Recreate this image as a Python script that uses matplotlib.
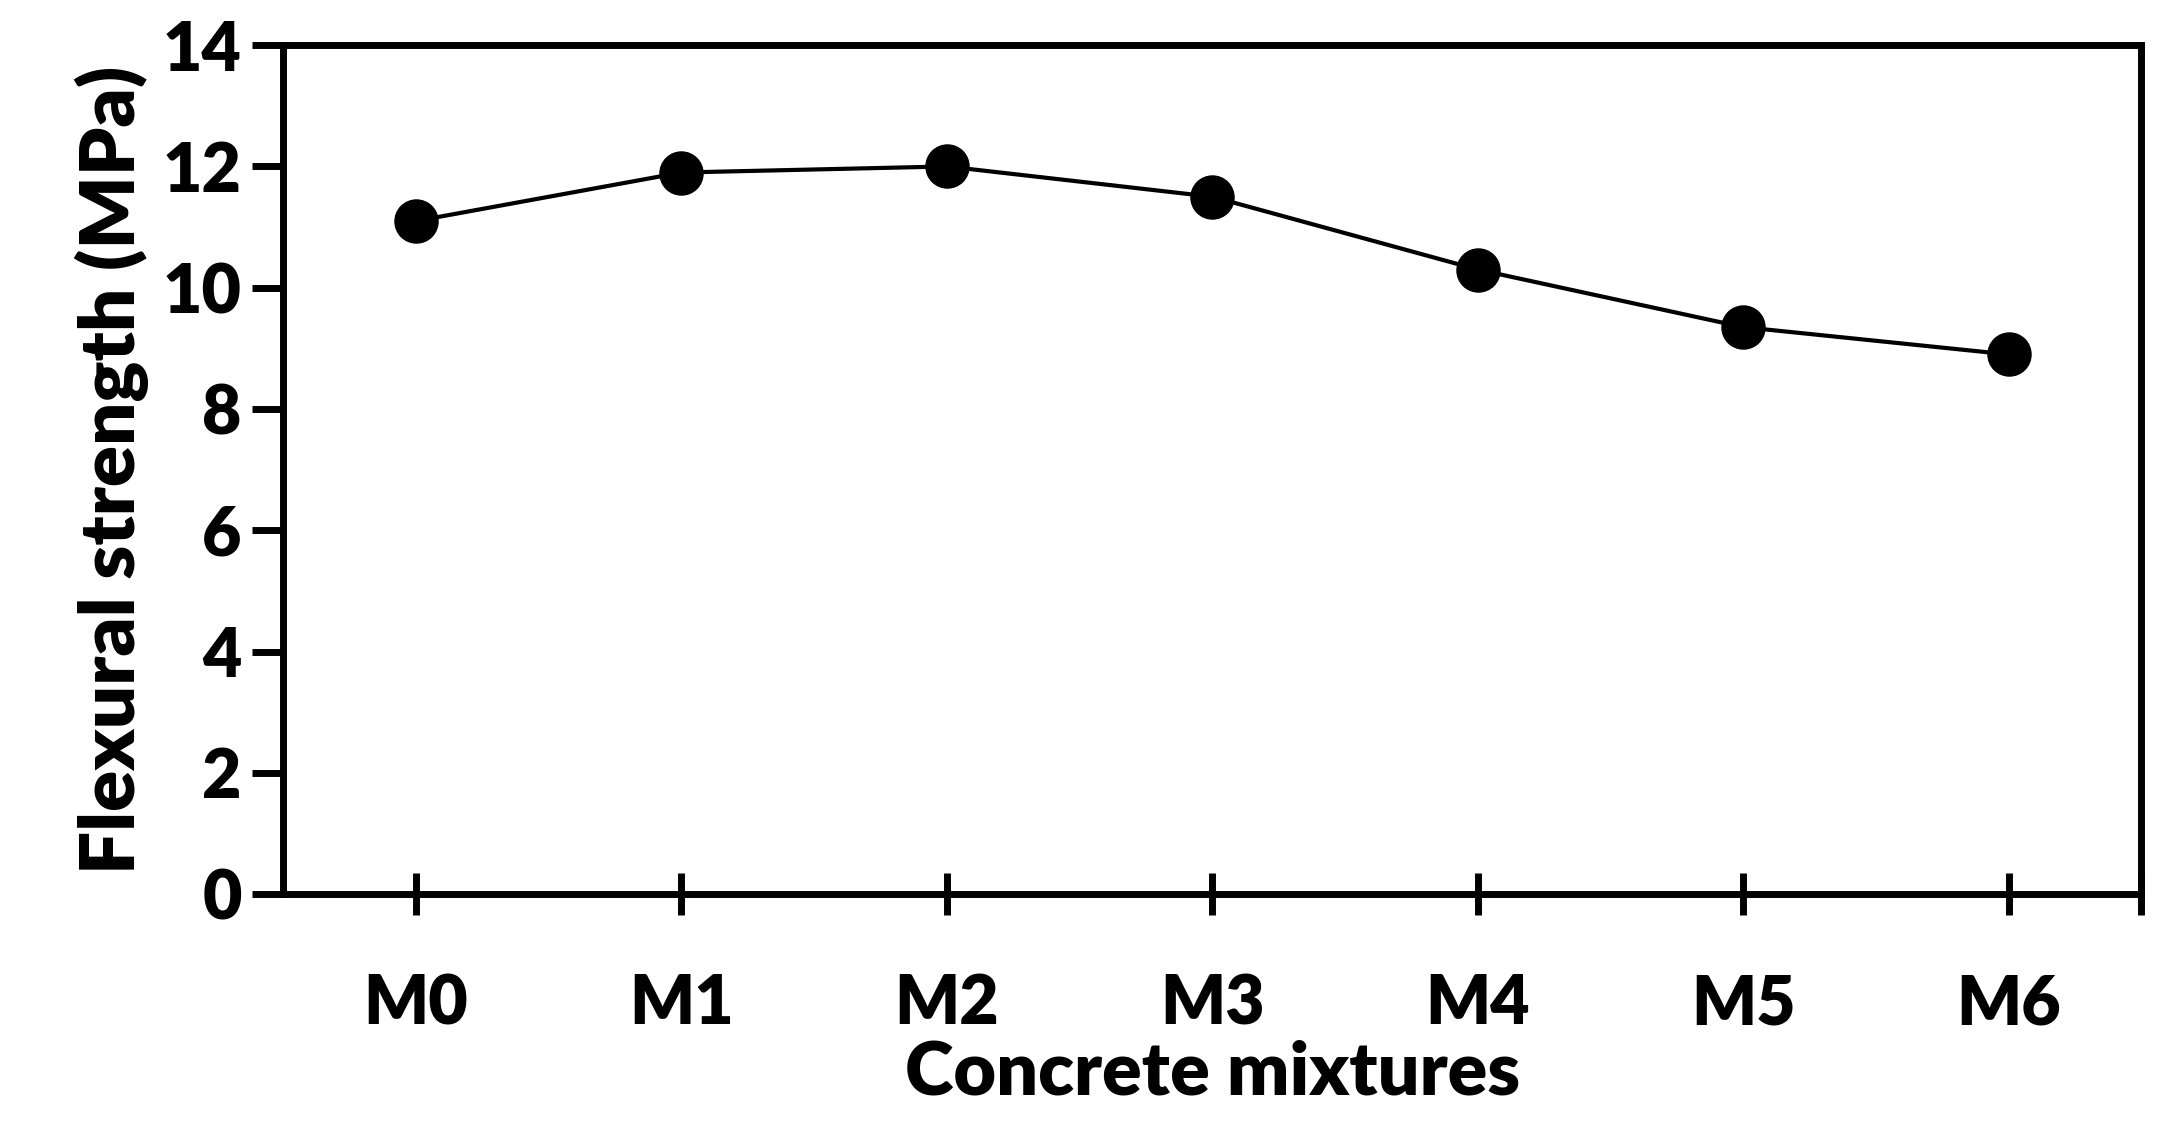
import matplotlib
matplotlib.use("Agg")
import matplotlib.pyplot as plt

categories = ["M0", "M1", "M2", "M3", "M4", "M5", "M6"]
values = [11.1, 11.9, 12.0, 11.5, 10.3, 9.35, 8.9]

plt.rcParams['font.family'] = ['Lato', 'DejaVu Sans']
plt.rcParams['font.weight'] = 'bold'

fig = plt.figure(figsize=(21.63, 11.29), dpi=100)
ax = fig.add_axes([0.131, 0.208, 0.859, 0.752])
x = list(range(len(categories)))
ax.plot(x, values, color='black', lw=3, marker='o', ms=31)
ax.set_xlim(-0.5, 6.5)
ax.set_ylim(0, 14)
ax.set_yticks(range(0, 15, 2))
ax.set_xticks(x + [6.5])
ax.set_xticklabels(categories + [""])
for s in ax.spines.values():
    s.set_linewidth(5)
ax.tick_params(axis='y', direction='out', length=22, width=5, labelsize=49, pad=8)
ax.tick_params(axis='x', direction='inout', length=30, width=5, labelsize=49, pad=42)
for t in ax.get_xticklabels() + ax.get_yticklabels():
    t.set_fontweight('heavy')
ax.set_xlabel("Concrete mixtures", fontsize=53, fontweight='heavy', labelpad=2)
ax.set_ylabel("Flexural strength (MPa)", fontsize=55, fontweight='heavy', labelpad=10)
fig.savefig("out.png", dpi=100)
